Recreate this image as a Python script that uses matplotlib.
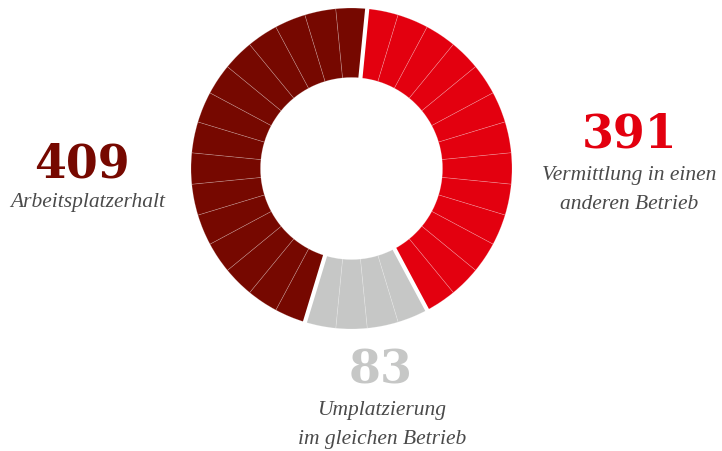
import matplotlib.pyplot as plt
import numpy as np

#values shown as labels
values = [391, 83, 409]
labels = ["Vermittlung in einen\nanderen Betrieb", "Umplatzierung\nim gleichen Betrieb", "Arbeitsplatzerhalt"]
#number of ring pieces per category (ring is split into 32 pieces)
units = [13, 4, 15]
colors = ["#e3000f", "#c6c7c6", "#760800"]

W, H = 722, 452
fig = plt.figure(figsize=(W/100, H/100), dpi=100)

#donut axes, center (351.5,169.5) px, radius 160.5 px
cx, cy, R = 351.5, 169.5, 160.5
ax = fig.add_axes([(cx-R)/W, 1-(cy+R)/H, 2*R/W, 2*R/H])

#pieces of the ring
piece_colors = []
for c, n in zip(colors, units):
    piece_colors += [c]*n
total = sum(units)
start = 90 - 0.5*360/total
ax.pie(np.ones(total), colors=piece_colors, startangle=start, counterclock=False, radius=1,
       wedgeprops=dict(width=0.433, edgecolor=(1, 1, 1, 0.25), linewidth=0.5))

#white gaps between categories
b = 0
for n in units:
    theta = np.deg2rad(start - b*360/total)
    ax.plot([0.5*np.cos(theta), 1.05*np.cos(theta)], [0.5*np.sin(theta), 1.05*np.sin(theta)],
            color="white", lw=3, solid_capstyle="butt")
    b += n

#pie changes the limits, so set them again
ax.set_xlim(-1, 1)
ax.set_ylim(-1, 1)
ax.set_aspect("equal")
ax.axis("off")

#labels
num_pos = [(629.5, 134), (380.5, 371), (81.5, 164)]
lab_pos = [(629, 190), (382, 425), (88, 203)]
for v, lab, c, (nx, ny), (lx, ly) in zip(values, labels, colors, num_pos, lab_pos):
    fig.text(nx/W, 1-ny/H, str(v), color=c, fontsize=33, fontweight="bold",
             family="DejaVu Serif", ha="center", va="center")
    fig.text(lx/W, 1-ly/H, lab, color="#4a4a4a", fontsize=15.5, style="italic",
             family="Liberation Serif", ha="center", va="center", linespacing=1.72)

plt.savefig("out.png", dpi=100)
